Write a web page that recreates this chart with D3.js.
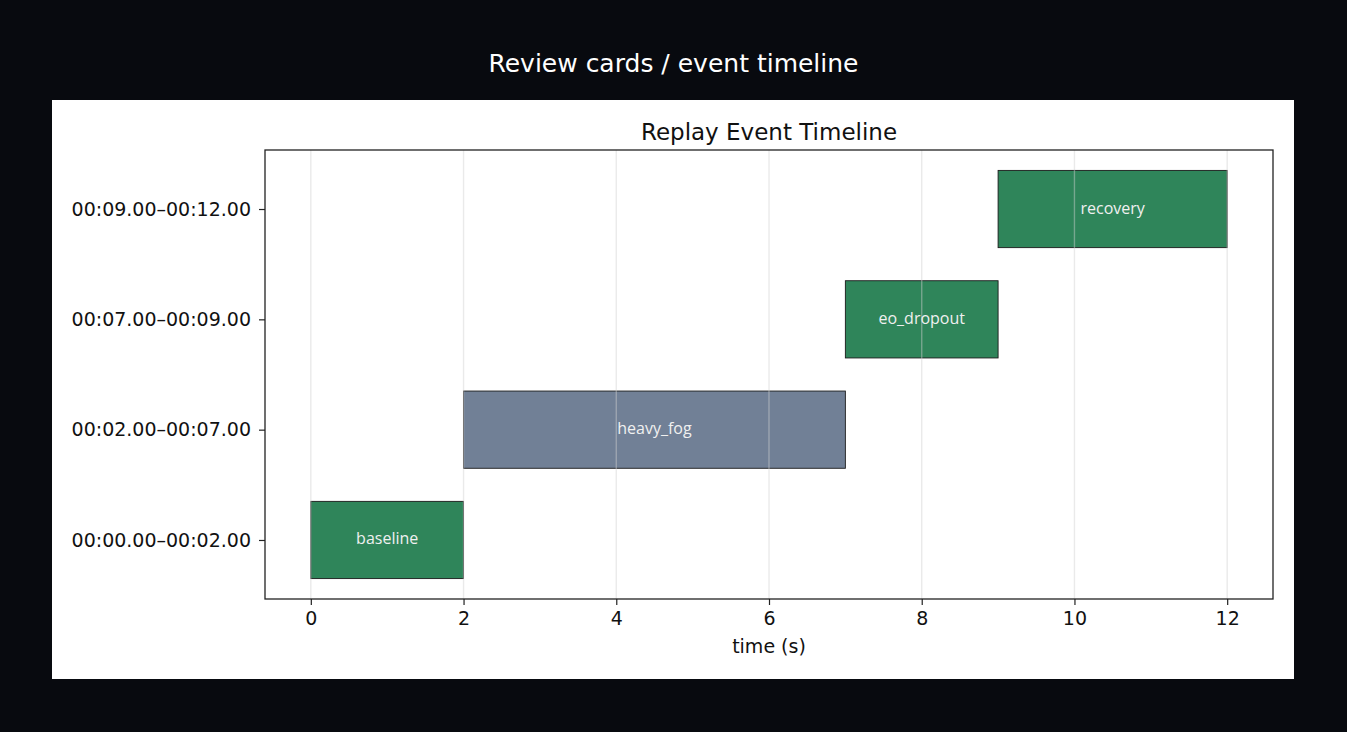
<!DOCTYPE html>
<html lang="en">
<head>
  <meta charset="UTF-8">
  <title>Review cards / event timeline</title>
  <script src="https://d3js.org/d3.v7.min.js"></script>
  <style>
    html, body { margin: 0; padding: 0; background: #080a0f; }
    svg { display: block; }
    text { font-family: "DejaVu Sans", sans-serif; }
  </style>
</head>
<body>
  <div id="chart"></div>
  <script>
    // event timeline data
    const events = ["baseline", "heavy_fog", "eo_dropout", "recovery"];
    const starts = [0, 2, 7, 9];
    const ends = [2, 7, 9, 12];
    const kinds = ["ok", "weather", "ok", "ok"];
    const rowLabels = ["00:00.00\u201300:02.00", "00:02.00\u201300:07.00", "00:07.00\u201300:09.00", "00:09.00\u201300:12.00"];
    const xTicks = [0, 2, 4, 6, 8, 10, 12];

    const W = 1347, H = 732;
    const panel = { x: 52, y: 100, w: 1242, h: 579 };
    const ax = { left: 265, top: 150, right: 1273, bottom: 599 };

    const color = d3.scaleOrdinal().domain(["ok", "weather"]).range(["#2f855a", "#718096"]);

    const svg = d3.select("#chart").append("svg")
      .attr("width", W).attr("height", H);

    svg.append("text")
      .attr("x", W / 2).attr("y", 72)
      .attr("text-anchor", "middle")
      .attr("fill", "#ffffff")
      .style("font-size", "25px")
      .text("Review cards / event timeline");

    svg.append("rect")
      .attr("x", panel.x).attr("y", panel.y)
      .attr("width", panel.w).attr("height", panel.h)
      .attr("fill", "#ffffff");

    const x = d3.scaleLinear().domain([-0.6, 12.6]).range([ax.left, ax.right]);
    const y = d3.scaleLinear().domain([-0.535, 3.535]).range([ax.bottom, ax.top]);
    const barH = y(0) - y(0.7);

    const g = svg.append("g");

    // bars
    g.selectAll("rect.bar")
      .data(events)
      .enter()
      .append("rect")
      .attr("class", "bar")
      .attr("x", (d, i) => x(starts[i]))
      .attr("y", (d, i) => y(i + 0.35))
      .attr("width", (d, i) => x(ends[i]) - x(starts[i]))
      .attr("height", barH)
      .attr("fill", (d, i) => color(kinds[i]))
      .attr("stroke", "#1a1a1a")
      .attr("stroke-width", 0.9);

    // grid on top of bars
    g.selectAll("line.grid")
      .data(xTicks)
      .enter()
      .append("line")
      .attr("x1", d => x(d)).attr("x2", d => x(d))
      .attr("y1", ax.top).attr("y2", ax.bottom)
      .attr("stroke", "#d0d0d0")
      .attr("stroke-opacity", 0.45)
      .attr("stroke-width", 1.4);

    // bar labels
    g.selectAll("text.lbl")
      .data(events)
      .enter()
      .append("text")
      .attr("x", (d, i) => x((starts[i] + ends[i]) / 2))
      .attr("y", (d, i) => y(i))
      .attr("dy", "0.28em")
      .attr("text-anchor", "middle")
      .attr("fill", "#f0f0f0")
      .style("font-family", "'Open Sans', sans-serif")
      .style("font-size", "16px")
      .text(d => d);

    // axes
    const xAxis = d3.axisBottom(x).tickValues(xTicks).tickFormat(d3.format("d")).tickSizeOuter(0).tickSize(6).tickPadding(7);
    const gx = svg.append("g").attr("transform", `translate(0,${ax.bottom})`).call(xAxis);
    const yAxis = d3.axisLeft(y).tickValues([0, 1, 2, 3]).tickFormat(i => rowLabels[i]).tickSizeOuter(0).tickSize(6).tickPadding(8);
    const gy = svg.append("g").attr("transform", `translate(${ax.left},0)`).call(yAxis);
    [gx, gy].forEach(a => {
      a.select(".domain").remove();
      a.selectAll(".tick line").attr("stroke", "#222").attr("stroke-width", 1.2);
      a.selectAll(".tick text").attr("fill", "#111").style("font-size", "19px").style("font-family", "'DejaVu Sans', sans-serif");
    });

    svg.append("rect")
      .attr("x", ax.left).attr("y", ax.top)
      .attr("width", ax.right - ax.left).attr("height", ax.bottom - ax.top)
      .attr("fill", "none")
      .attr("stroke", "#222")
      .attr("stroke-width", 1.3);

    svg.append("text")
      .attr("x", (ax.left + ax.right) / 2).attr("y", 653)
      .attr("text-anchor", "middle")
      .attr("fill", "#111")
      .style("font-size", "19px")
      .text("time (s)");

    svg.append("text")
      .attr("x", (ax.left + ax.right) / 2).attr("y", 140)
      .attr("text-anchor", "middle")
      .attr("fill", "#111")
      .style("font-size", "23px")
      .text("Replay Event Timeline");
  </script>
</body>
</html>
